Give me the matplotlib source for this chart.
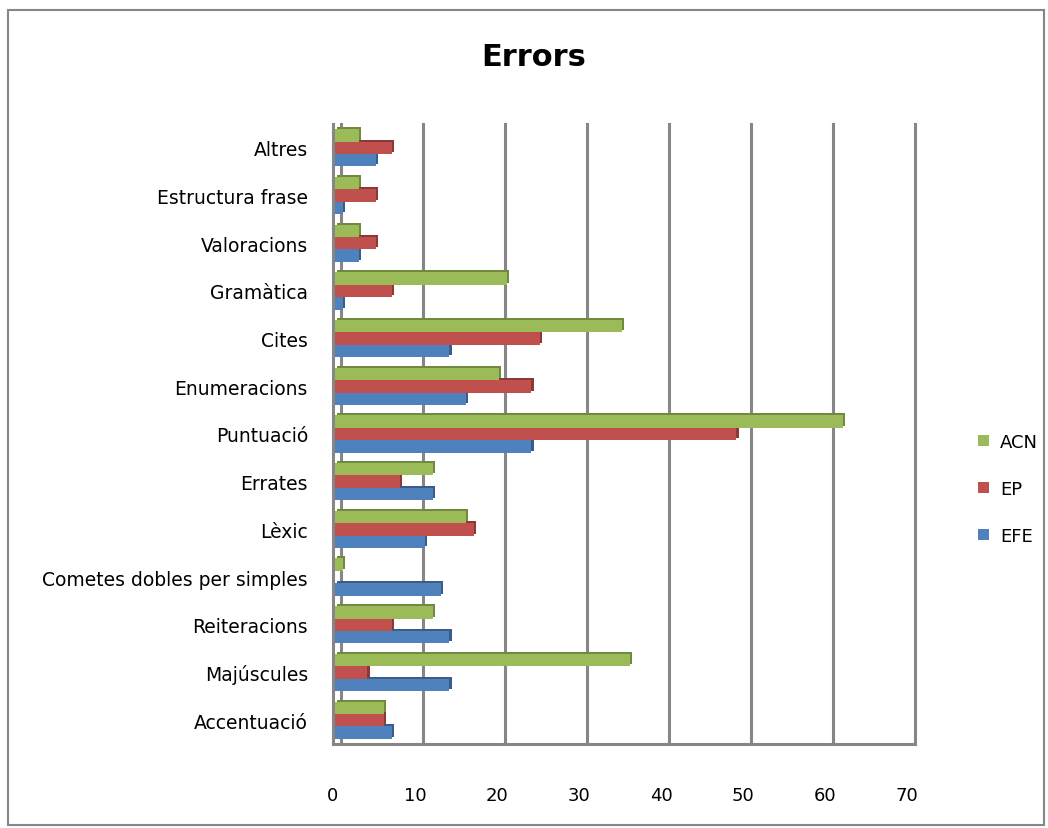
import matplotlib
matplotlib.use("Agg")
import matplotlib.pyplot as plt
import matplotlib.transforms as mtransforms
from matplotlib.patches import Rectangle
import numpy as np

categories = ["Accentuació", "Majúscules", "Reiteracions", "Cometes dobles per simples",
              "Lèxic", "Errates", "Puntuació", "Enumeracions", "Cites", "Gramàtica",
              "Valoracions", "Estructura frase", "Altres"]
efe = [7, 14, 14, 13, 11, 12, 24, 16, 14, 1, 3, 1, 5]
ep = [6, 4, 7, 0, 17, 8, 49, 24, 25, 7, 5, 5, 7]
acn = [6, 36, 12, 1, 16, 12, 62, 20, 35, 21, 3, 3, 3]
xticks = [0, 10, 20, 30, 40, 50, 60, 70]

colors = {"EFE": "#4F81BD", "EP": "#C0504D", "ACN": "#9BBB59"}
dark = {"EFE": "#385D8A", "EP": "#8C3836", "ACN": "#71893F"}

fig = plt.figure(figsize=(10.48, 8.29), dpi=100)
ax = fig.add_axes([333/1048, 1-745/829, (907-333)/1048, (745-125)/829])

y = np.arange(len(categories))
h = 0.26
offs = mtransforms.ScaledTranslation(0.022, 0.02, fig.dpi_scale_trans)
grid_off = mtransforms.ScaledTranslation(0.08, 0.0, fig.dpi_scale_trans)

# back gridlines
for xv in xticks:
    ax.plot([xv, xv], [0.005, 1.0], color="#868686", lw=2.2, zorder=1, clip_on=False,
            transform=ax.get_xaxis_transform() + grid_off)

series = [("EFE", efe, -h), ("EP", ep, 0.0), ("ACN", acn, h)]
for name, vals, dy in series:
    ax.barh(y + dy, vals, height=h, left=0.2, color=dark[name], zorder=2,
            transform=ax.transData + offs)
for name, vals, dy in series:
    ax.barh(y + dy, vals, height=h, left=0.2, color=colors[name], zorder=3,
            label=name)

ax.set_xlim(0, 70)
ax.set_ylim(-0.5, len(categories) - 0.5)
ax.set_yticks(y)
ax.set_yticklabels(categories, fontsize=13.5)
ax.set_xticks(xticks)
ax.set_xticklabels([str(t) for t in xticks], fontsize=13)
ax.tick_params(axis="y", length=0, pad=18)
ax.tick_params(axis="x", length=0, pad=30)
for s in ["top", "right"]:
    ax.spines[s].set_visible(False)
for s in ["left", "bottom"]:
    ax.spines[s].set_color("#868686")
    ax.spines[s].set_linewidth(2.2)
ax.spines["bottom"].set_bounds(0, 71)
ax.patch.set_alpha(0)

fig.text(0.509, 1-58/829, "Errors", ha="center", va="center", fontsize=22,
         fontweight="bold")

handles, labels = ax.get_legend_handles_labels()
order = [2, 1, 0]
fig.legend([handles[i] for i in order], [labels[i] for i in order],
           loc="center left", bbox_to_anchor=(962/1048, 1-490/829),
           frameon=False, fontsize=13, handlelength=0.6, handleheight=0.6,
           handletextpad=0.6, labelspacing=1.6)

fig.patches.append(Rectangle((8/1048, 3/829), 1036/1048, 815/829, fill=False,
                             edgecolor="#868686", lw=1.5, transform=fig.transFigure))

fig.savefig("out.png", dpi=100)
